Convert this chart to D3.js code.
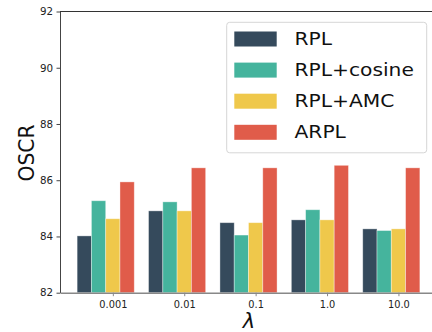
<!DOCTYPE html>
<meta charset="utf-8">
<script src="https://d3js.org/d3.v7.min.js"></script>
<style>
  body { margin: 0; background: #fff; }
  text { font-family: "DejaVu Sans", sans-serif; }
</style>
<body>
<div id="chart"></div>
<script>

// data
var lambdas = ["0.001", "0.01", "0.1", "1.0", "10.0"]
var methods = ["RPL", "RPL+cosine", "RPL+AMC", "ARPL"]
var rpl       = [84.02, 84.91, 84.49, 84.59, 84.27]
var rplCosine = [85.27, 85.23, 84.05, 84.95, 84.21]
var rplAmc    = [84.63, 84.91, 84.49, 84.59, 84.27]
var arpl      = [85.94, 86.44, 86.44, 86.53, 86.44]
var yTicks = [82, 84, 86, 88, 90, 92]

var series = [rpl, rplCosine, rplAmc, arpl]
var colors = ["#354a5c", "#45b49d", "#efc84b", "#e05c4a"]

var width = 432, height = 332
var mLeft = 60, mTop = 11.5, mBottom = 292.7

var svg = d3.select("#chart").append("svg")
  .attr("width", width)
  .attr("height", height)

// x in "group index" units, like the original plot
var barW = 0.2
var x = d3.scaleLinear().domain([-0.74, 4.54]).range([mLeft, 437])
var y = d3.scaleLinear().domain([82, 92]).range([mBottom, mTop])

// bars
series.forEach(function(vals, s) {
  svg.append("g").selectAll("rect")
    .data(vals)
    .enter()
    .append("rect")
      .attr("x", function(d, i) { return x(i + (s - 2) * barW - barW / 2) })
      .attr("width", x(barW) - x(0))
      .attr("y", function(d) { return y(d) })
      .attr("height", function(d) { return y(82) - y(d) })
      .attr("fill", colors[s])
      .attr("stroke", "#fff")
      .attr("stroke-opacity", 0.45)
      .attr("stroke-width", 0.8)
})

// y axis
var yAxis = svg.append("g")
  .attr("transform", "translate(" + mLeft + ",0)")
  .call(d3.axisLeft(y).tickValues(yTicks).tickSize(3.5).tickSizeOuter(0).tickPadding(3.5)
    .tickFormat(d3.format("d")))
yAxis.select(".domain").attr("stroke", "#444").attr("stroke-width", 1)
yAxis.selectAll(".tick line").attr("stroke", "#444")
yAxis.selectAll("text").attr("font-size", 10.3).attr("fill", "#222")
  .attr("font-family", "DejaVu Sans")

// x axis
var xAxis = svg.append("g")
  .attr("transform", "translate(0," + mBottom + ")")
  .call(d3.axisBottom(x).tickValues(d3.range(lambdas.length)).tickSize(3.5).tickSizeOuter(0).tickPadding(5)
    .tickFormat(function(d) { return lambdas[d] }))
xAxis.select(".domain").attr("stroke", "#888").attr("stroke-width", 1.6)
xAxis.selectAll(".tick line").attr("stroke", "#888")
xAxis.selectAll("text").attr("font-size", 9.8).attr("fill", "#222")
  .attr("font-family", "DejaVu Sans")

// top spine
svg.append("line")
  .attr("x1", mLeft).attr("x2", width)
  .attr("y1", mTop).attr("y2", mTop)
  .attr("stroke", "#333").attr("stroke-width", 1)

// axis titles
svg.append("text")
  .attr("transform", "translate(33.5,153) rotate(-90) scale(1,1.08)")
  .attr("text-anchor", "middle")
  .attr("font-size", 20.3)
  .attr("fill", "#111")
  .text("OSCR")

svg.append("text")
  .attr("x", 249).attr("y", 328)
  .attr("text-anchor", "middle")
  .attr("font-size", 21)
  .attr("font-style", "italic")
  .attr("fill", "#111")
  .text("λ")

// legend
var legend = svg.append("g")
legend.append("rect")
  .attr("x", 226.7).attr("y", 22.3)
  .attr("width", 200).attr("height", 130.5)
  .attr("rx", 3)
  .attr("fill", "#fff").attr("fill-opacity", 0.85)
  .attr("stroke", "#d6d6d6")

var entries = legend.selectAll("g.entry")
  .data(methods)
  .enter()
  .append("g")
    .attr("class", "entry")
    .attr("transform", function(d, i) { return "translate(0," + (39 + i * 31.1) + ")" })

entries.append("rect")
  .attr("x", 234.3).attr("y", -7.5)
  .attr("width", 42.4).attr("height", 15)
  .attr("fill", function(d, i) { return colors[i] })

// the original legend font is a bit wider than DejaVu, so stretch it a little
entries.append("text")
  .attr("transform", "translate(294.5,6) scale(1.19,1)")
  .attr("font-size", 17)
  .attr("fill", "#111")
  .text(function(d) { return d })

</script>
</body>
